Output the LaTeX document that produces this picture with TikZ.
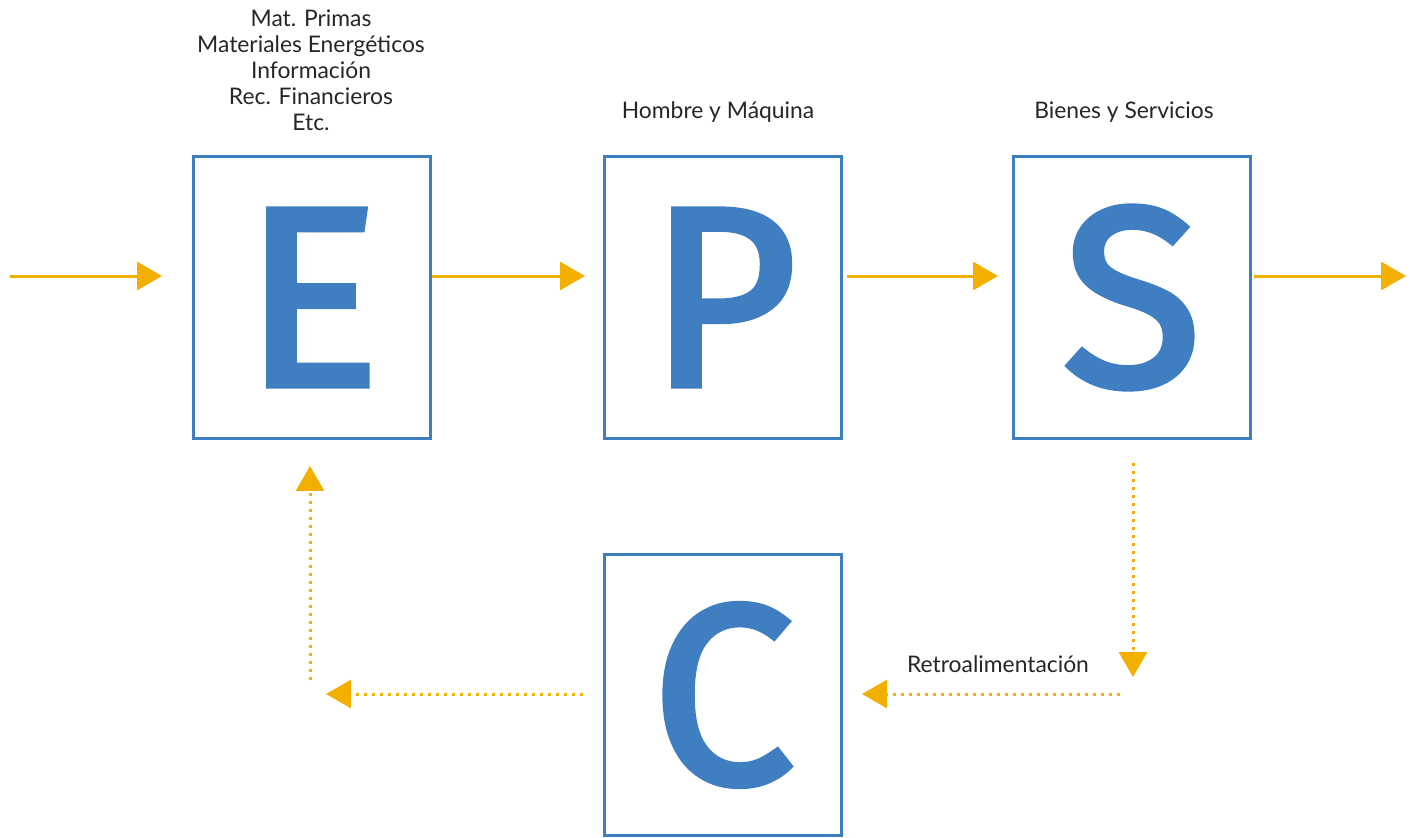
\documentclass[tikz,border=0pt]{standalone}
\usepackage{fontspec}
\setmainfont{Lato}
\newfontfamily\letterfont[FakeBold=2.6]{Fira Sans}
\usetikzlibrary{arrows.meta}
\definecolor{boxblue}{HTML}{3F7EC1}
\definecolor{arrorange}{HTML}{F3AF00}
\tikzset{
  bigbox/.style={draw=boxblue, line width=0.06cm, minimum width=4.74cm, minimum height=5.64cm, inner sep=0pt,
    text=boxblue, font=\letterfont\fontsize{145}{145}\selectfont},
  flow/.style={draw=arrorange, line width=0.06cm, -{Triangle[length=0.5cm, width=0.56cm]}},
  feedback/.style={draw=arrorange, line width=0.06cm, dash pattern=on 0.06cm off 0.1cm, -{Triangle[length=0.5cm, width=0.56cm]}},
  lbl/.style={font=\fontsize{13}{14.8}\selectfont, text=black!85, align=center, inner sep=0pt}
}
\begin{document}
\begin{tikzpicture}[x=0.02cm, y=-0.02cm]
\useasboundingbox (0,0) rectangle (1410,838);
\node[bigbox] (E) at (312,297.5) {E};
\node[bigbox] (P) at (723,297.5) {P};
\node[bigbox] (S) at (1132,297.5) {S};
\node[bigbox] (C) at (723,695) {C};
\node[lbl] (tin) at (311,70) {Mat. Primas\\Materiales Energéticos\\Información\\Rec. Financieros\\Etc.};
\node[lbl] (tP) at (718,112) {Hombre y Máquina};
\node[lbl] (tS) at (1124,112) {Bienes y Servicios};
\node[lbl] (tR) at (998,664) {Retroalimentación};
\coordinate (inStart) at (10,276);
\coordinate (inEnd) at (162,276);
\coordinate (outEnd) at (1406,276);
\coordinate (sDown1) at (1133,463);
\coordinate (sDown2) at (1133,677);
\coordinate (rStart) at (1120,694);
\coordinate (rEnd) at (862,694);
\coordinate (lStart) at (583,694);
\coordinate (lEnd) at (326,694);
\coordinate (uStart) at (310,680);
\coordinate (uEnd) at (310,466);
\draw[flow] (inStart) -- (inEnd);
\draw[flow, shorten >=0.36cm] (E.east |- inStart) -- (P.west |- inStart);
\draw[flow, shorten <=0.08cm, shorten >=0.28cm] (P.east |- inStart) -- (S.west |- inStart);
\draw[flow, shorten <=0.04cm] (S.east |- inStart) -- (outEnd);
\draw[feedback] (sDown1) -- (sDown2);
\draw[feedback] (rStart) -- (rEnd);
\draw[feedback] (lStart) -- (lEnd);
\draw[feedback] (uStart) -- (uEnd);
\end{tikzpicture}
\end{document}
